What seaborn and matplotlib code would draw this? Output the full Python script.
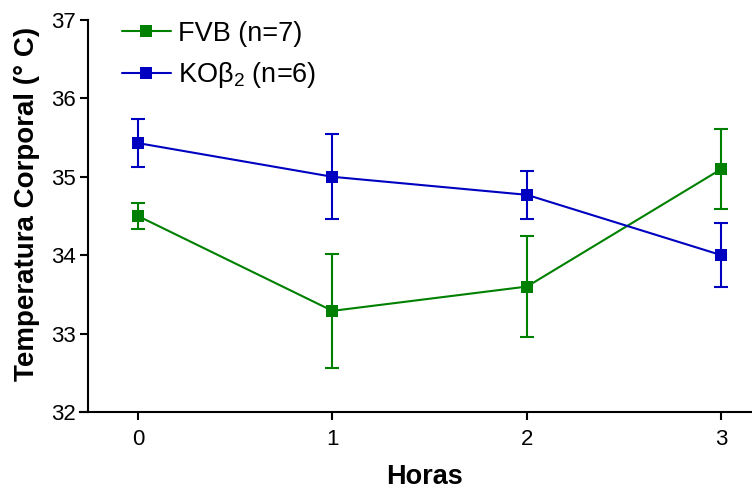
import matplotlib
matplotlib.use("Agg")
import matplotlib.pyplot as plt
import seaborn as sns
import pandas as pd

# Body temperature over time (mean ± SEM)
horas = [0, 1, 2, 3]
fvb_mean = [34.50, 33.29, 33.60, 35.10]
fvb_err = [0.17, 0.73, 0.64, 0.51]
ko_mean = [35.43, 35.00, 34.77, 34.00]
ko_err = [0.31, 0.54, 0.31, 0.41]
labels = ["FVB (n=7)", "KOβ$_{2}$ (n=6)"]
colors = ["#008000", "#0000C0"]

sns.set_theme(style="ticks")
plt.rcParams["font.family"] = ["Liberation Sans", "DejaVu Sans"]
plt.rcParams["mathtext.default"] = "regular"
for key in ("text.color", "axes.labelcolor", "xtick.color", "ytick.color"):
    plt.rcParams[key] = "black"

df = pd.concat([
    pd.DataFrame({"Horas": horas, "Temp": fvb_mean, "err": fvb_err, "grupo": labels[0]}),
    pd.DataFrame({"Horas": horas, "Temp": ko_mean, "err": ko_err, "grupo": labels[1]}),
])

fig = plt.figure(figsize=(7.52, 4.93), dpi=100)
ax = fig.add_axes([80 / 752, 81 / 493, 672 / 752, 392 / 493])

sns.lineplot(data=df, x="Horas", y="Temp", hue="grupo", palette=colors,
             marker="s", markersize=9, markeredgewidth=0, linewidth=1.5,
             errorbar=None, ax=ax)

for (g, sub), c in zip(df.groupby("grupo", sort=False), colors):
    ax.errorbar(sub["Horas"], sub["Temp"], yerr=sub["err"], fmt="none",
                ecolor=c, elinewidth=1.5, capsize=5, capthick=1.5)

ax.set_xlim(-0.298, 3.157)
ax.set_ylim(32, 37)
ax.set_xticks(horas)
ax.set_yticks([32, 33, 34, 35, 36, 37])
ax.spines["right"].set_visible(False)
ax.spines["top"].set_visible(False)
ax.spines["left"].set_position(("data", -0.258))
for s in ("left", "bottom"):
    ax.spines[s].set_linewidth(1.5)
    ax.spines[s].set_color("black")
ax.tick_params(axis="both", direction="out", length=6, width=1.5,
               labelsize=16, colors="black", pad=2.5)
ax.tick_params(axis="x", pad=6)

ax.set_xlabel("Horas", fontsize=19.5, fontweight="bold")
ax.set_ylabel("Temperatura Corporal (° C)", fontsize=20, fontweight="bold")
ax.xaxis.set_label_coords(0.5126, -0.133)
ax.yaxis.set_label_coords(-0.06, 0.532)

leg = ax.legend(loc="upper left", bbox_to_anchor=(0.026, 1.06), frameon=False,
                fontsize=19.5, handlelength=1.8, handletextpad=0.28, labelspacing=0.5,
                title=None)

fig.savefig("out.png", dpi=100)
